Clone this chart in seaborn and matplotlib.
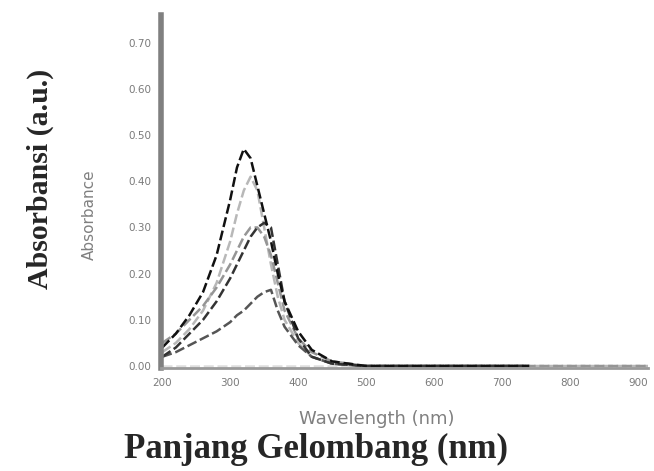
import numpy as np
import pandas as pd
import seaborn as sns
import matplotlib.pyplot as plt

# wavelengths (nm); darker spectra stop earlier than the lighter ones
wl_long = [200, 220, 240, 260, 280, 300, 310, 320, 330, 340, 350,
           360, 370, 380, 400, 420, 450, 500, 600, 700, 800, 915]
wl_short = [200, 220, 240, 260, 280, 300, 310, 320, 330, 340, 350,
            360, 370, 380, 400, 420, 450, 500, 600, 740]

# absorbance values
abs_a = [0.04, 0.07, 0.11, 0.16, 0.24, 0.36, 0.43, 0.47, 0.45, 0.39, 0.33,
         0.27, 0.20, 0.14, 0.075, 0.035, 0.01, 0, 0, 0]
abs_c = [0.02, 0.04, 0.07, 0.10, 0.14, 0.19, 0.22, 0.25, 0.28, 0.30, 0.31,
         0.30, 0.22, 0.14, 0.06, 0.02, 0.005, 0, 0, 0]
abs_e = [0.02, 0.03, 0.045, 0.06, 0.075, 0.095, 0.11, 0.12, 0.135, 0.15, 0.16,
         0.165, 0.12, 0.085, 0.045, 0.02, 0.005, 0, 0, 0]
abs_b = [0.03, 0.05, 0.08, 0.12, 0.18, 0.27, 0.33, 0.38, 0.41, 0.38, 0.30,
         0.22, 0.15, 0.10, 0.05, 0.02, 0.005, 0, 0, 0, 0, 0]
abs_d = [0.05, 0.07, 0.10, 0.13, 0.17, 0.22, 0.25, 0.28, 0.30, 0.30, 0.28,
         0.24, 0.18, 0.12, 0.06, 0.03, 0.01, 0, 0, 0, 0, 0]
abs_f = [0] * len(wl_long)

series = {'f': (wl_long, abs_f), 'b': (wl_long, abs_b), 'd': (wl_long, abs_d),
          'e': (wl_short, abs_e), 'c': (wl_short, abs_c), 'a': (wl_short, abs_a)}
colors = {'f': '#dedede', 'b': '#b8b8b8', 'd': '#959595', 'e': '#555555',
          'c': '#333333', 'a': '#111111'}

xticks = [200, 300, 400, 500, 600, 700, 800, 900]
yticks = [0.0, 0.1, 0.2, 0.3, 0.4, 0.5, 0.6, 0.7]

df = pd.concat([pd.DataFrame({'wl': w, 'abs': v, 'sample': k})
                for k, (w, v) in series.items()], ignore_index=True)

sns.set_style('white')
plt.rcParams['font.family'] = ['DejaVu Sans']

fig = plt.figure(figsize=(6.54, 4.71), dpi=100)
ax = fig.add_axes([0.246, 0.219, 0.745, 0.749])

sns.lineplot(data=df, x='wl', y='abs', hue='sample', palette=colors,
             linewidth=1.8, legend=False, ax=ax, sort=False)
for line in ax.get_lines():
    line.set_dashes((4, 1.5))

ax.set_xlim(198, 915)
ax.set_ylim(-0.004, 0.76)
ax.set_xticks(xticks)
ax.set_xticklabels([str(t) for t in xticks])
ax.set_yticks(yticks)
ax.set_yticklabels([f'{t:.2f}' for t in yticks])
ax.tick_params(axis='both', labelsize=7.5, labelcolor='#7a7a7a', color='#333333',
               length=3, width=1.2, direction='out', pad=4)

sns.despine(ax=ax)
ax.spines['left'].set_color('#808080')
ax.spines['left'].set_linewidth(4)
ax.spines['bottom'].set_color('#9a9a9a')
ax.spines['bottom'].set_linewidth(2)

ax.set_xlabel('Wavelength (nm)', fontsize=13, color='#808080')
ax.set_ylabel('Absorbance', fontsize=11, color='#808080')
ax.xaxis.set_label_coords(0.444, -0.12)
ax.yaxis.set_label_coords(-0.131, 0.433)

fig.text(0.062, 0.62, 'Absorbansi (a.u.)', rotation=90, ha='center', va='center',
         fontsize=21.5, fontweight='bold', family='Liberation Serif')
fig.text(0.483, 0.046, 'Panjang Gelombang (nm)', ha='center', va='center',
         fontsize=25, fontweight='bold', family='Liberation Serif')

fig.savefig('out.png', dpi=100)
